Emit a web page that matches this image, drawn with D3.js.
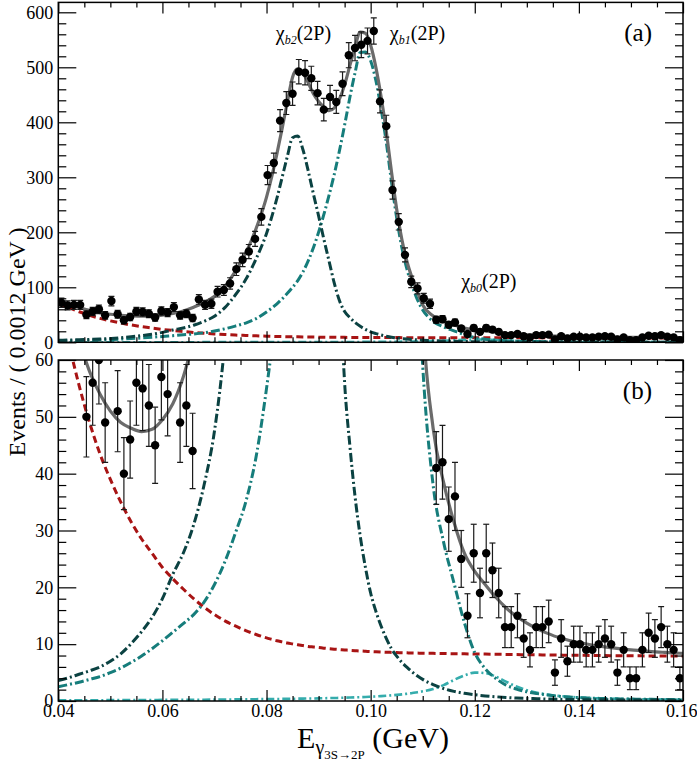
<!DOCTYPE html>
<html>
<head>
<meta charset="utf-8">
<title>E gamma 3S to 2P</title>
<script src="https://cdn.jsdelivr.net/npm/d3@7"></script>
<style>
  body { margin: 0; background: #fff; }
  svg text { font-family: "Liberation Serif", "Times New Roman", serif; fill: #000; }
</style>
</head>
<body>
<svg width="697" height="761"></svg>
<script>
// ---- data: 100 bins of 0.0012 GeV from 0.040 to 0.160
var binLow = 0.04, binWidth = 0.0012;
var counts = [
  72, 67, 68, 68, 50, 56, 60, 49, 75, 51,
  40, 46, 56, 55, 52, 45, 57, 54, 64, 49,
  52, 44, 78, 68, 70, 92, 95, 107, 133, 150,
  165, 188, 228, 304, 326, 403, 435, 452, 492, 490,
  480, 453, 423, 446, 437, 470, 522, 535, 541, 548,
  566, 438, 393, 277, 219, 159, 110, 98, 80, 70,
  41, 42, 32, 36, 25, 15, 26, 19, 26, 23,
  19, 13, 13, 15, 11, 9, 13, 13, 14, 5,
  11, 7, 10, 10, 9, 9, 10, 11, 10, 5,
  9, 4, 4, 9, 12, 11, 13, 10, 9, 4
];

var curveE = d3.range(0.040, 0.0795, 0.002)
  .concat(d3.range(0.080, 0.1105, 0.001))
  .concat(d3.range(0.112, 0.1605, 0.002));

var fitTotal = [
  76, 69.5, 63.5, 58, 54, 51, 49, 48, 47.4, 47.8, 49.5, 52.3, 57, 63.8, 72, 83.5, 102, 129, 162, 207,
  264, 301, 343, 389, 437, 482, 497, 490, 472, 452,
  438, 428, 421, 426, 442, 468, 503, 537, 564, 562,
  540, 500, 447, 384, 310, 242, 187, 146, 116, 91, 68,
  48, 38.5, 31.5, 26, 22.8, 20.5, 18.3, 16.4, 14.9, 13.7, 12.7, 11.9, 11.2, 10.7, 10.3,
  9.95, 9.65, 9.4, 9.2, 9.0, 8.85, 8.7, 8.58, 8.47, 8.38
];
var fitBkg = [
  71, 63, 55.5, 49, 43.5, 39, 35, 31.5, 28.5, 26, 23.5, 21.5, 19.7, 18, 16.5, 15.2, 14.1, 13.2, 12.4, 11.7,
  11.1, 10.85, 10.6, 10.4, 10.2, 10.05, 9.9, 9.75, 9.6, 9.5,
  9.4, 9.3, 9.2, 9.12, 9.05, 8.98, 8.92, 8.86, 8.8, 8.75,
  8.7, 8.66, 8.62, 8.58, 8.55, 8.52, 8.5, 8.47, 8.45, 8.43, 8.41,
  8.38, 8.35, 8.32, 8.3, 8.27, 8.25, 8.22, 8.2, 8.17, 8.15, 8.13, 8.1, 8.08, 8.06, 8.04,
  8.02, 8.0, 7.98, 7.96, 7.95, 7.94, 7.93, 7.92, 7.91, 7.9
];
var fitChib2 = [
  3.6, 4.1, 4.7, 5.3, 6.0, 7.0, 8.3, 10.1, 12.2, 14.7, 18.0, 22.3, 26.0, 31.0, 38.0, 47.5, 63, 86, 114, 152,
  198, 228, 262, 300, 338, 372, 375, 350, 312, 270,
  230, 188, 148, 108, 76, 56, 45, 36, 29, 23.5,
  19, 15.8, 13.2, 11, 9.2, 7.9, 6.8, 5.9, 5.1, 4.4, 3.8,
  2.9, 2.2, 1.7, 1.35, 1.1, 0.9, 0.75, 0.62, 0.52, 0.45, 0.4, 0.35, 0.3, 0.27, 0.25,
  0.23, 0.21, 0.2, 0.19, 0.18, 0.17, 0.16, 0.16, 0.15, 0.15
];
var fitChib1 = [
  2.5, 2.9, 3.3, 3.8, 4.3, 5.0, 5.8, 6.8, 7.9, 9.2, 10.6, 12.1, 13.6, 15.2, 17.4, 20.5, 24.5, 29.5, 35, 43,
  55, 62, 70, 79, 89, 100, 112, 128, 148, 172,
  200, 232, 267, 305, 348, 395, 445, 490, 527, 528,
  512, 476, 425, 364, 292, 226, 172, 132, 102, 77, 59,
  38, 28, 20.8, 13.8, 8.5, 5.7, 4.0, 2.8, 2.1, 1.6, 1.3, 1.05, 0.85, 0.7, 0.6,
  0.52, 0.46, 0.41, 0.37, 0.34, 0.31, 0.29, 0.27, 0.26, 0.25
];
var fitChib0 = [
  0.12, 0.12, 0.13, 0.13, 0.14, 0.15, 0.15, 0.16, 0.17, 0.18, 0.19, 0.2, 0.21, 0.22, 0.23, 0.25, 0.26, 0.28, 0.3, 0.32,
  0.34, 0.35, 0.36, 0.37, 0.38, 0.4, 0.41, 0.42, 0.44, 0.45,
  0.47, 0.49, 0.51, 0.53, 0.55, 0.58, 0.61, 0.64, 0.67, 0.71,
  0.75, 0.8, 0.86, 0.93, 1.0, 1.08, 1.17, 1.28, 1.4, 1.55, 1.7,
  2.1, 2.8, 3.7, 4.5, 5.0, 4.9, 4.3, 3.4, 2.55, 1.9, 1.45, 1.12, 0.9, 0.74, 0.62,
  0.53, 0.46, 0.41, 0.37, 0.33, 0.3, 0.28, 0.26, 0.24, 0.22
];

var xMajor = [0.04, 0.06, 0.08, 0.10, 0.12, 0.14, 0.16];
var topYMajor = [0, 100, 200, 300, 400, 500, 600];
var botYMajor = [0, 10, 20, 30, 40, 50, 60];

var peakLabels = [
  {name: "b2", e: 0.0871, v: 550},
  {name: "b1", e: 0.1090, v: 550},
  {name: "b0", e: 0.1227, v: 98}
];

// ---- layout
var svg = d3.select("svg");
var x = d3.scaleLinear().domain([0.04, 0.16]).range([58.3, 683]);
var yTop = d3.scaleLinear().domain([0, 618]).range([342.3, 2.4]);
var yBot = d3.scaleLinear().domain([0, 60]).range([701, 360]);

var xMinor = d3.range(0.04, 0.1601, 0.005).filter(function (d) {
  return xMajor.every(function (m) { return Math.abs(m - d) > 1e-6; });
});

var bins = counts.map(function (c, i) {
  return {e: binLow + binWidth * (i + 0.5), n: c};
});

var curves = [
  {vals: fitBkg, color: "#a81414", width: 3, dash: "7,4"},
  {vals: fitChib0, color: "#35acac", width: 2.6, dash: "8,3,2,3"},
  {vals: fitChib1, color: "#167d7b", width: 3, dash: "9,3,2,3"},
  {vals: fitChib2, color: "#0b4242", width: 3, dash: "9,3,2,3"},
  {vals: fitTotal, color: "#6b6b6b", width: 3.2, dash: null}
];

function panel(id, y, yMajor, yMinorStep, withLabels) {
  var y0 = y.range()[0], y1 = y.range()[1];
  var ymax = y.domain()[1];
  var yMinor = d3.range(0, ymax + 1e-9, yMinorStep).filter(function (d) {
    return yMajor.indexOf(d) < 0;
  });
  var g = svg.append("g");

  svg.append("clipPath").attr("id", id)
    .append("rect").attr("x", x.range()[0]).attr("y", y1)
    .attr("width", x.range()[1] - x.range()[0]).attr("height", y0 - y1);

  var plot = g.append("g").attr("clip-path", "url(#" + id + ")");

  var line = d3.line()
    .x(function (d) { return x(d[0]); })
    .y(function (d) { return y(d[1]); })
    .curve(d3.curveMonotoneX);

  curves.forEach(function (c) {
    plot.append("path")
      .datum(curveE.map(function (e, i) { return [e, c.vals[i]]; }))
      .attr("d", line)
      .attr("fill", "none")
      .attr("stroke", c.color)
      .attr("stroke-width", c.width)
      .attr("stroke-dasharray", c.dash);
  });

  var shown = bins.filter(function (d) { return d.n <= ymax; });
  var err = plot.append("g").attr("stroke", "#1a1a1a").attr("stroke-width", 1.2);
  shown.forEach(function (d) {
    var s = Math.sqrt(d.n), cx = x(d.e);
    err.append("line").attr("x1", cx).attr("x2", cx).attr("y1", y(d.n - s)).attr("y2", y(d.n + s));
    err.append("line").attr("x1", cx - 3).attr("x2", cx + 3).attr("y1", y(d.n - s)).attr("y2", y(d.n - s));
    err.append("line").attr("x1", cx - 3).attr("x2", cx + 3).attr("y1", y(d.n + s)).attr("y2", y(d.n + s));
  });
  plot.selectAll("circle.pt").data(shown).enter().append("circle")
    .attr("class", "pt")
    .attr("cx", function (d) { return x(d.e); })
    .attr("cy", function (d) { return y(d.n); })
    .attr("r", 4.2)
    .attr("fill", "#000");

  // axes, ticks pointing inward
  var ax = g.append("g").attr("class", "axes");
  var xLab = ax.append("g").attr("transform", "translate(0," + y0 + ")")
    .call(d3.axisBottom(x).tickValues(xMajor).tickSize(-11).tickPadding(3)
      .tickFormat(withLabels ? d3.format(".2f") : ""));
  ax.append("g").attr("transform", "translate(0," + y0 + ")")
    .call(d3.axisBottom(x).tickValues(xMinor).tickSize(-5).tickFormat(""));
  ax.append("g").attr("transform", "translate(0," + y1 + ")")
    .call(d3.axisTop(x).tickValues(xMajor).tickSize(-11).tickFormat(""));
  ax.append("g").attr("transform", "translate(0," + y1 + ")")
    .call(d3.axisTop(x).tickValues(xMinor).tickSize(-5).tickFormat(""));
  ax.append("g").attr("transform", "translate(" + x.range()[0] + ",0)")
    .call(d3.axisLeft(y).tickValues(yMajor).tickSize(-18).tickPadding(5).tickFormat(d3.format("d")));
  ax.append("g").attr("transform", "translate(" + x.range()[0] + ",0)")
    .call(d3.axisLeft(y).tickValues(yMinor).tickSize(-8).tickFormat(""));
  ax.append("g").attr("transform", "translate(" + x.range()[1] + ",0)")
    .call(d3.axisRight(y).tickValues(yMajor).tickSize(-18).tickFormat(""));
  ax.append("g").attr("transform", "translate(" + x.range()[1] + ",0)")
    .call(d3.axisRight(y).tickValues(yMinor).tickSize(-8).tickFormat(""));
  ax.selectAll(".domain").remove();
  ax.selectAll(".tick line").attr("stroke", "#000").attr("stroke-width", 1.2);
  ax.selectAll(".tick text").attr("font-size", 18).attr("fill", "#000")
    .attr("font-family", "'Liberation Serif', 'Times New Roman', serif");
  // last x label sits against the page edge
  xLab.selectAll(".tick text").filter(function (d) { return d > 0.159; })
    .attr("text-anchor", "end").attr("x", 697 - x(0.16));

  g.append("rect")
    .attr("x", x.range()[0]).attr("y", y1)
    .attr("width", x.range()[1] - x.range()[0]).attr("height", y0 - y1)
    .attr("fill", "none").attr("stroke", "#000").attr("stroke-width", 1.5);
  return g;
}

var gTop = panel("clipTop", yTop, topYMajor, 20, false);
var gBot = panel("clipBot", yBot, botYMajor, 2, true);

// panel tags
svg.append("text").attr("x", 652).attr("y", 41).attr("text-anchor", "end")
  .attr("font-size", 25).text("(a)");
svg.append("text").attr("x", 652).attr("y", 399).attr("text-anchor", "end")
  .attr("font-size", 25).text("(b)");

// state labels
peakLabels.forEach(function (p) {
  var t = svg.append("text")
    .attr("x", x(p.e)).attr("y", yTop(p.v))
    .attr("text-anchor", "middle").attr("font-size", 20);
  t.append("tspan").text("\u03c7");
  t.append("tspan").attr("font-size", 12).attr("font-style", "italic").attr("dy", 4).text(p.name);
  t.append("tspan").attr("dy", -4).text("(2P)");
});

// axis titles
svg.append("text")
  .attr("transform", "translate(25,342) rotate(-90)")
  .attr("text-anchor", "middle").attr("font-size", 24)
  .text("Events / ( 0.0012 GeV )");

var xt = svg.append("text").attr("x", 373).attr("y", 748)
  .attr("text-anchor", "middle").attr("font-size", 30);
xt.append("tspan").text("E");
xt.append("tspan").attr("font-size", 20).attr("dy", 6).text("\u03b3");
xt.append("tspan").attr("font-size", 13).attr("dy", 5).text("3S\u21922P");
xt.append("tspan").attr("dy", -11).text(" (GeV)");
</script>
</body>
</html>
